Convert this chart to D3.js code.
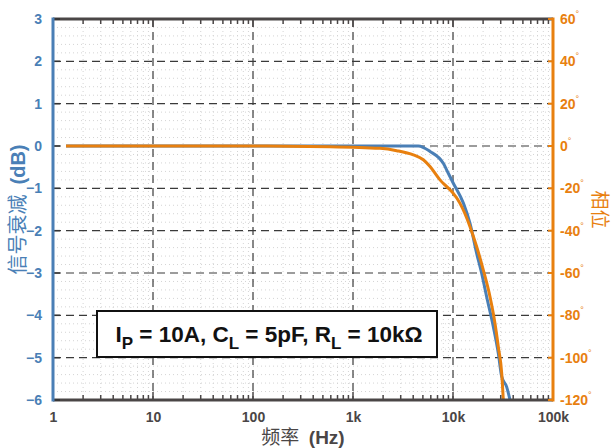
<!DOCTYPE html>
<html>
<head>
<meta charset="utf-8">
<script src="https://cdn.jsdelivr.net/npm/d3@7"></script>
<style>
  body { margin: 0; background: #fff; }
  svg text { font-family: "Liberation Sans", Arial, "Noto Sans CJK SC", sans-serif; font-weight: bold; }
</style>
</head>
<body>
<div id="container"></div>
<script>
// magnitude (left axis, dB) and phase (right axis, degrees)
const magFreq = [1.35, 10, 100, 1000, 3000, 4500, 5900, 8000, 9000, 10070, 12700, 14800, 17250, 19360, 21700, 25300, 28400, 30700, 34400, 37150];
const magDb   = [0, 0, 0, 0, 0, 0, -0.13, -0.41, -0.65, -0.88, -1.35, -1.83, -2.54, -3.01, -3.56, -4.27, -4.90, -5.45, -5.69, -6.0];

const phFreq  = [1.35, 10, 100, 589, 1862, 2735, 4010, 5050, 5890, 7410, 8650, 10070, 11750, 14800, 17250, 20100, 23440, 26300, 28400, 30700, 31850];
const phDeg   = [0, 0, 0, -0.3, -1.1, -2.2, -4.2, -6.5, -9.7, -16, -19.2, -22.4, -27.1, -38.1, -47.6, -58.6, -71.2, -83.8, -94.9, -107.4, -120];

const xTicks = [1, 10, 100, 1000, 10000, 100000];
const xTickLabels = ["1", "10", "100", "1k", "10k", "100k"];
const dbTicks = [3, 2, 1, 0, -1, -2, -3, -4, -5, -6];
const degTicks = [60, 40, 20, 0, -20, -40, -60, -80, -100, -120];

const blue = "#4a7fb6";
const orange = "#e8800f";
const dark = "#4a4646";

const W = 616, H = 448;
const m = { left: 53, right: 63, top: 19, bottom: 48 };

const svg = d3.select("#container").append("svg")
  .attr("width", W).attr("height", H);

const x = d3.scaleLog().domain([1, 100000]).range([m.left, W - m.right]);
const yDb = d3.scaleLinear().domain([-6, 3]).range([H - m.bottom, m.top]);
const yDeg = d3.scaleLinear().domain([-120, 60]).range([H - m.bottom, m.top]);

const x0 = x.range()[0], x1 = x.range()[1];
const yb = yDb.range()[0], yt = yDb.range()[1];

// minor grid
const minorX = [];
for (let d = 1; d < 100000; d *= 10) for (let k = 2; k <= 9; k++) minorX.push(d * k);
const minorY = d3.range(-6, 3.001, 0.2).filter(v => Math.abs(v - Math.round(v)) > 0.01);

const grid = svg.append("g");
grid.selectAll(".mx").data(minorX).enter().append("line")
  .attr("x1", d => x(d)).attr("x2", d => x(d)).attr("y1", yt).attr("y2", yb)
  .attr("stroke", "#d4d4d4").attr("stroke-width", 1).attr("stroke-dasharray", "1,3");
grid.selectAll(".my").data(minorY).enter().append("line")
  .attr("x1", x0).attr("x2", x1).attr("y1", d => yDb(d)).attr("y2", d => yDb(d))
  .attr("stroke", "#d4d4d4").attr("stroke-width", 1).attr("stroke-dasharray", "1,3");

// major grid
grid.selectAll(".gx").data(xTicks.slice(1, -1)).enter().append("line")
  .attr("x1", d => x(d)).attr("x2", d => x(d)).attr("y1", yt).attr("y2", yb)
  .attr("stroke", "#3a3a3a").attr("stroke-width", 1.2).attr("stroke-dasharray", "8,5");
grid.selectAll(".gy").data(dbTicks.slice(1, -1)).enter().append("line")
  .attr("x1", x0).attr("x2", x1).attr("y1", d => yDb(d)).attr("y2", d => yDb(d))
  .attr("stroke", "#3a3a3a").attr("stroke-width", 1.2).attr("stroke-dasharray", "8,5");

// legend box
const box = svg.append("g");
box.append("rect").attr("x", 97).attr("y", 311).attr("width", 340).attr("height", 46)
  .attr("fill", "#fff").attr("stroke", "#111").attr("stroke-width", 2);
const lt = box.append("text").attr("x", 269).attr("y", 342).attr("text-anchor", "middle")
  .attr("font-size", 22.5).attr("fill", "#111");
lt.append("tspan").text("I");
lt.append("tspan").attr("dy", 7).attr("font-size", 17).text("P");
lt.append("tspan").attr("dy", -7).text(" = 10A, C");
lt.append("tspan").attr("dy", 7).attr("font-size", 17).text("L");
lt.append("tspan").attr("dy", -7).text(" = 5pF, R");
lt.append("tspan").attr("dy", 7).attr("font-size", 17).text("L");
lt.append("tspan").attr("dy", -7).text(" = 10kΩ");

// curves
svg.append("clipPath").attr("id", "plot").append("rect")
  .attr("x", x0).attr("y", yt).attr("width", x1 - x0).attr("height", yb - yt);

const magLine = d3.line().x(d => x(d[0])).y(d => yDb(d[1])).curve(d3.curveMonotoneX);
const phLine = d3.line().x(d => x(d[0])).y(d => yDeg(d[1])).curve(d3.curveMonotoneX);

svg.append("path").datum(d3.zip(magFreq, magDb)).attr("d", magLine)
  .attr("fill", "none").attr("stroke", blue).attr("stroke-width", 3).attr("clip-path", "url(#plot)");
svg.append("path").datum(d3.zip(phFreq, phDeg)).attr("d", phLine)
  .attr("fill", "none").attr("stroke", orange).attr("stroke-width", 3).attr("clip-path", "url(#plot)");

// x axes (top and bottom) with inward ticks
const xb = svg.append("g").attr("transform", `translate(0,${yb})`)
  .call(d3.axisBottom(x).tickValues(xTicks).tickSize(0).tickFormat((d, i) => xTickLabels[i]).tickPadding(12));
xb.select(".domain").remove();
xb.selectAll("text").attr("font-size", 14).attr("fill", dark);

[yt, yb].forEach(yy => {
  const dir = yy === yt ? 1 : -1;
  svg.append("g").selectAll("line").data(minorX).enter().append("line")
    .attr("x1", d => x(d)).attr("x2", d => x(d)).attr("y1", yy).attr("y2", yy + dir * 5)
    .attr("stroke", dark).attr("stroke-width", 1.5);
  svg.append("g").selectAll("line").data(xTicks).enter().append("line")
    .attr("x1", d => x(d)).attr("x2", d => x(d)).attr("y1", yy).attr("y2", yy + dir * 8)
    .attr("stroke", dark).attr("stroke-width", 1.5);
  svg.append("line").attr("x1", x0).attr("x2", x1).attr("y1", yy).attr("y2", yy)
    .attr("stroke", dark).attr("stroke-width", 3);
});

// left axis
const yl = svg.append("g").attr("transform", `translate(${x0},0)`)
  .call(d3.axisLeft(yDb).tickValues(dbTicks).tickSize(0).tickPadding(11));
yl.select(".domain").remove();
yl.selectAll("text").attr("font-size", 14).attr("fill", blue);
svg.append("g").selectAll("line").data(dbTicks).enter().append("line")
  .attr("x1", x0).attr("x2", x0 + 7).attr("y1", d => yDb(d)).attr("y2", d => yDb(d))
  .attr("stroke", "#333").attr("stroke-width", 1.5);
svg.append("line").attr("x1", x0).attr("x2", x0).attr("y1", yt - 1.5).attr("y2", yb + 1.5)
  .attr("stroke", blue).attr("stroke-width", 3);

// right axis
const yr = svg.append("g").attr("transform", `translate(${x1},0)`)
  .call(d3.axisRight(yDeg).tickValues(degTicks).tickSize(0).tickPadding(7).tickFormat(() => ""));
yr.select(".domain").remove();
yr.selectAll(".tick text").each(function(d) {
  const t = d3.select(this).attr("font-size", 14).attr("fill", orange);
  t.append("tspan").text(d);
  t.append("tspan").attr("dy", -7).attr("font-size", 9).attr("font-weight", "normal").text("°");
});
svg.append("g").selectAll("line").data(degTicks).enter().append("line")
  .attr("x1", x1 - 5).attr("x2", x1).attr("y1", d => yDeg(d)).attr("y2", d => yDeg(d))
  .attr("stroke", orange).attr("stroke-width", 2);
svg.append("line").attr("x1", x1).attr("x2", x1).attr("y1", yt - 1.5).attr("y2", yb + 1.5)
  .attr("stroke", orange).attr("stroke-width", 3);

// axis titles
const cy = (yt + yb) / 2;
const tl = svg.append("text").attr("transform", `translate(20,${cy}) rotate(-90)`)
  .attr("text-anchor", "middle").attr("dominant-baseline", "middle")
  .attr("font-size", 20).attr("fill", blue);
tl.append("tspan").style("font-weight", "normal").style("font-family", "'Noto Sans CJK SC'").text("信号衰减");
tl.append("tspan").text("\u2002(dB)");

svg.append("text").attr("transform", `translate(598,${cy}) rotate(90)`)
  .attr("text-anchor", "middle").attr("dominant-baseline", "middle")
  .attr("font-size", 19).style("font-weight", "normal").style("font-family", "'Noto Sans CJK SC'")
  .attr("fill", orange).text("相位");

const tx = svg.append("text").attr("x", (x0 + x1) / 2).attr("y", 444)
  .attr("text-anchor", "middle").attr("font-size", 19).attr("fill", dark);
tx.append("tspan").style("font-weight", "normal").style("font-family", "'Noto Sans CJK SC'").text("频率");
tx.append("tspan").text("\u2002(Hz)");
</script>
</body>
</html>
